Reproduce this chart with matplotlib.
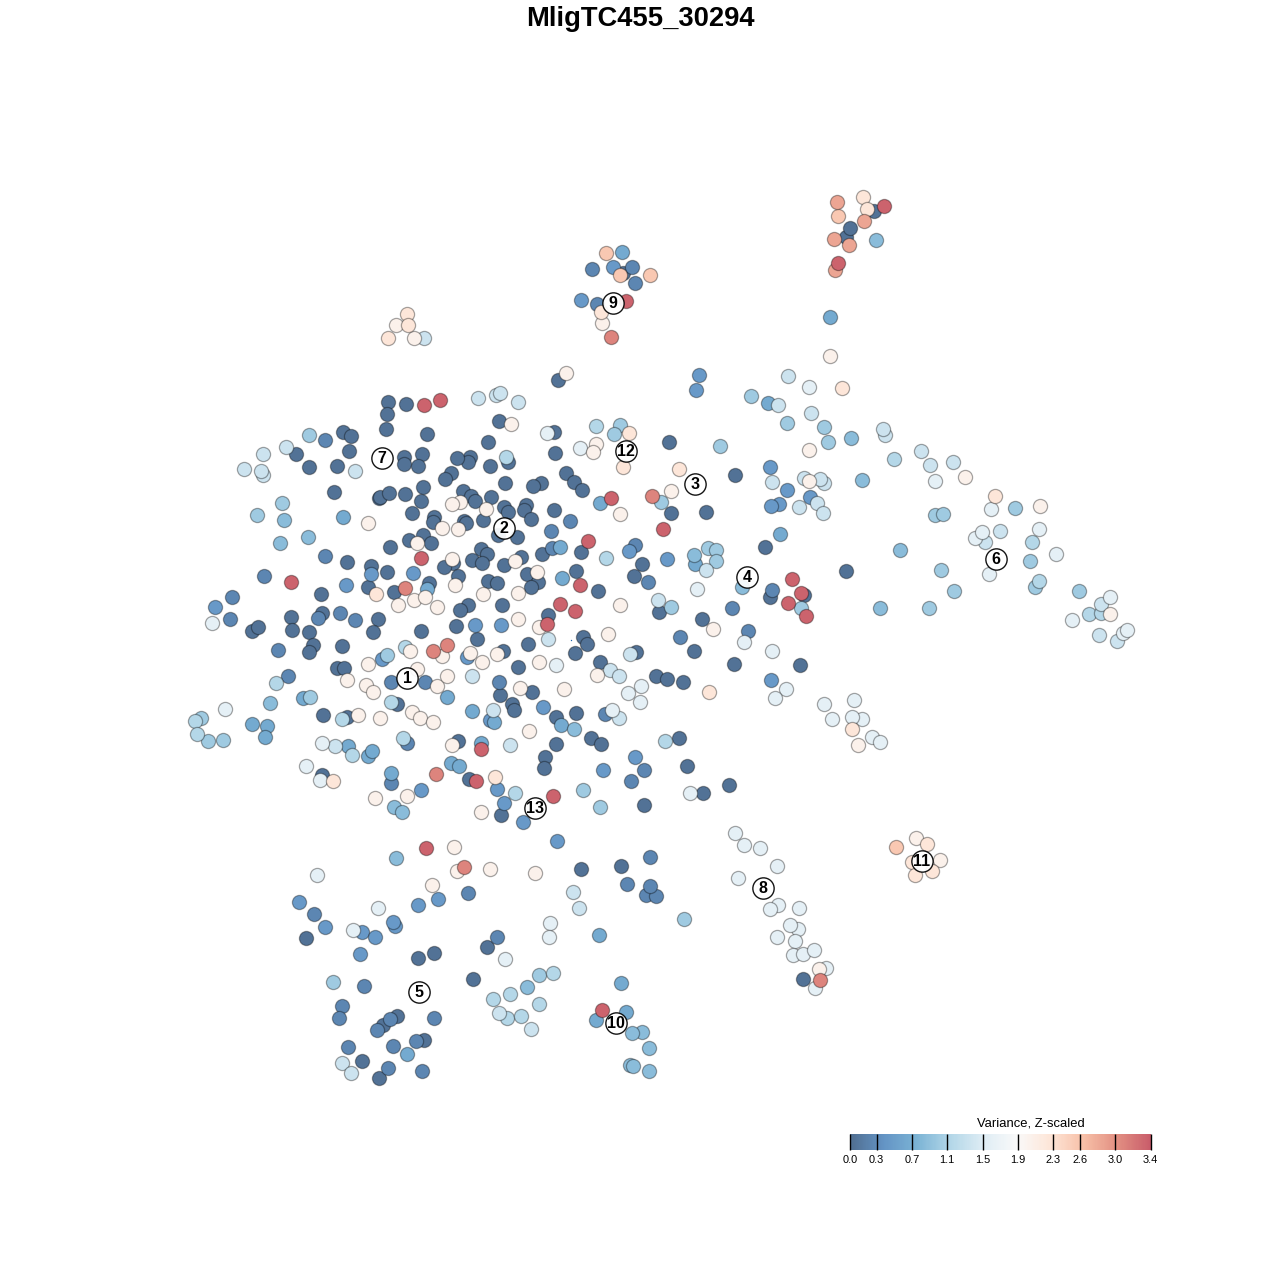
import matplotlib
matplotlib.use("Agg")
import matplotlib.pyplot as plt
from matplotlib.cm import ScalarMappable
from matplotlib.colors import LinearSegmentedColormap, Normalize
import numpy as np

plt.rcParams["font.family"] = ["Liberation Sans", "DejaVu Sans"]

# embedding positions of the cells, grouped by their scaled variance
var_005 = [(388,402),(406,404),(387,414),(386,429),(427,434),(343,432),(351,436),(296,454),(349,451),(309,467),
    (337,466),(404,457),(404,464),(422,454),(418,466),(334,492),(379,498),(380,497),(389,493),(405,494),
    (423,487),(421,501),(412,513),(434,517),(433,522),(347,562),(390,547),(409,540),(423,535),(431,543),
    (371,566),(387,572),(368,587),(394,592),(429,583),(321,594),(291,617),(322,613),(378,619),(252,631),
    (258,627),(292,630),(309,632),(373,632),(342,646),(421,631),(313,645),(309,652),(337,668),(344,668),
    (323,715),(347,717),(397,704),(322,775),(558,380),(499,421),(554,432),(488,442),(669,442),(555,453),
    (470,457),(468,462),(457,458),(508,462),(490,466),(451,473),(445,479),(505,483),(566,473),(574,482),
    (582,490),(541,483),(533,486),(671,513),(463,491),(471,496),(475,501),(491,497),(504,507),(508,512),
    (526,505),(524,510),(531,519),(554,510),(483,520),(464,521),(466,523),(498,535),(517,537),(581,552),
    (542,554),(642,564),(634,576),(481,549),(487,554),(472,560),(482,563),(453,563),(444,567),(521,557),
    (504,565),(458,576),(488,581),(497,583),(527,574),(538,582),(531,587),(576,571),(598,591),(659,612),
    (548,615),(502,605),(468,605),(460,610),(456,626),(583,637),(587,644),(477,639),(503,651),(528,644),
    (575,653),(518,667),(636,652),(600,662),(656,676),(667,679),(683,682),(500,695),(532,692),(512,704),
    (514,710),(556,717),(576,713),(591,738),(601,744),(679,738),(458,741),(556,744),(545,757),(544,768),
    (687,766),(469,779),(501,815),(644,805),(581,869),(621,866),(735,475),(706,512),(765,547),(846,571),
    (804,595),(770,597),(702,619),(694,651),(734,664),(800,665),(703,793),(729,785),(803,979),(623,273),
    (874,211),(846,237),(850,228),(306,938),(418,958),(434,953),(487,947),(473,979),(397,1016),(383,1025),
    (424,1040),(362,1061),(379,1078)]
var_025 = [(325,440),(325,556),(264,576),(232,597),(230,619),(318,618),(340,613),(355,620),(278,650),(288,676),
    (391,682),(425,682),(407,743),(391,783),(551,531),(570,521),(552,548),(635,545),(648,582),(680,637),
    (499,682),(605,714),(644,770),(631,781),(650,857),(748,631),(772,590),(732,608),(592,269),(632,267),
    (635,283),(597,304),(468,893),(314,914),(497,937),(364,986),(342,1006),(339,1018),(390,1019),(377,1030),
    (434,1018),(416,1041),(393,1046),(348,1047),(388,1068),(422,1071),(627,884),(646,895),(656,896),(650,886)]
var_045 = [(371,574),(413,573),(346,585),(215,607),(475,625),(501,625),(629,551),(667,559),(382,659),(421,790),
    (467,657),(543,707),(490,720),(635,757),(603,770),(497,789),(504,803),(523,822),(557,841),(699,375),
    (696,390),(770,467),(787,490),(779,504),(771,506),(810,497),(418,905),(438,899),(299,902),(325,927),
    (362,932),(375,937),(395,926),(393,922),(360,954),(771,680),(613,267),(581,300)]
var_065 = [(343,517),(427,589),(560,547),(600,503),(562,578),(303,698),(252,724),(267,726),(265,737),(348,746),
    (368,756),(372,751),(391,773),(447,697),(472,711),(494,722),(561,725),(481,743),(451,763),(459,766),
    (768,403),(780,534),(695,564),(830,317),(599,935),(407,1054),(622,252),(621,983),(626,1012),(596,1020)]
var_085 = [(308,537),(280,543),(284,520),(270,703),(394,807),(402,812),(574,729),(851,438),(862,480),(694,555),
    (742,587),(876,240),(880,608),(900,550),(527,987),(642,1032),(632,1033),(649,1048),(630,1065),(633,1066),
    (649,1071),(396,858)]
var_100 = [(282,503),(257,515),(309,435),(620,425),(614,434),(661,502),(671,607),(387,655),(201,718),(310,697),
    (223,740),(208,741),(583,790),(600,807),(720,446),(751,396),(824,427),(828,442),(787,423),(1015,508),
    (935,515),(943,514),(1030,561),(941,570),(954,591),(929,608),(1035,587),(1079,591),(333,982),(539,975),
    (708,548),(716,550),(716,561),(801,608),(684,919)]
var_115 = [(342,719),(405,647),(403,738),(276,683),(195,721),(197,734),(391,702),(352,755),(606,558),(596,426),
    (506,457),(665,741),(515,793),(894,459),(1032,542),(1039,581),(1089,614),(1101,613),(553,973),(510,994),
    (493,999),(539,1004),(507,1018),(521,1016)]
var_135 = [(286,447),(263,454),(244,469),(263,475),(261,471),(355,471),(478,398),(496,395),(500,393),(518,402),
    (548,639),(335,746),(493,710),(510,745),(610,670),(619,676),(619,718),(630,654),(658,600),(472,676),
    (573,892),(579,908),(778,405),(788,376),(811,413),(885,435),(883,429),(921,451),(930,465),(953,462),
    (772,482),(804,478),(824,483),(820,479),(817,503),(799,507),(823,513),(706,570),(1000,531),(985,542),
    (1099,635),(1117,641),(1101,604),(424,338),(342,1063),(351,1073),(499,1013),(531,1029)]
var_160 = [(212,623),(225,709),(322,743),(306,766),(320,780),(547,433),(580,448),(556,665),(641,686),(628,693),
    (640,702),(612,710),(697,589),(690,793),(935,481),(991,509),(975,538),(982,532),(1039,529),(1056,554),
    (989,574),(1110,597),(1072,620),(1123,633),(1127,630),(809,387),(744,642),(772,651),(786,689),(775,698),
    (824,704),(854,700),(832,719),(862,719),(852,717),(872,737),(880,742),(317,875),(378,908),(353,930),
    (505,959),(550,923),(549,937),(735,833),(744,845),(760,848),(777,866),(738,878),(778,905),(770,909),
    (799,908),(798,929),(790,925),(777,937),(795,941),(793,955),(803,954),(814,950),(826,968),(815,988)]
var_205 = [(368,523),(442,528),(458,529),(460,502),(452,504),(486,509),(417,543),(437,607),(398,605),(414,600),
    (425,597),(483,594),(518,593),(455,585),(537,572),(515,561),(452,559),(518,619),(539,627),(620,605),
    (511,424),(566,373),(596,444),(593,452),(620,514),(671,491),(608,634),(410,651),(368,664),(417,669),
    (347,680),(366,685),(373,692),(437,686),(412,712),(420,718),(433,722),(358,715),(380,718),(375,798),
    (407,796),(442,656),(470,653),(497,654),(482,662),(539,662),(597,675),(447,676),(520,688),(564,689),
    (529,731),(452,745),(481,812),(454,847),(457,871),(490,869),(535,873),(432,885),(830,356),(713,629),
    (809,450),(809,481),(965,477),(1040,506),(1110,614),(396,325),(414,338),(602,323),(858,745),(819,969),
    (916,838),(940,860)]
var_225 = [(376,594),(333,781),(623,467),(629,433),(679,469),(495,777),(709,692),(842,388),(995,496),(407,314),
    (408,325),(388,338),(852,729),(927,844),(912,862),(863,197),(867,209),(601,312),(915,875),(932,871)]
var_255 = [(606,253),(620,275),(650,275),(838,216),(896,847)]
var_285 = [(837,202),(864,221),(834,239),(849,245),(835,270)]
var_310 = [(405,588),(433,651),(447,645),(436,774),(464,867),(820,980),(611,337),(652,496)]
var_335 = [(424,405),(440,400),(291,582),(421,558),(611,498),(663,529),(588,541),(580,585),(560,604),(575,611),
    (547,624),(481,749),(476,781),(553,796),(426,848),(602,1010),(792,579),(801,593),(788,603),(806,616),
    (626,301),(884,206),(838,263)]

var_levels = [0.05, 0.25, 0.45, 0.65, 0.85, 1.0, 1.15, 1.35, 1.6, 2.05, 2.25, 2.55, 2.85, 3.1, 3.35]
var_groups = [var_005, var_025, var_045, var_065, var_085, var_100, var_115, var_135, var_160,
              var_205, var_225, var_255, var_285, var_310, var_335]

cluster_ids = ["1", "2", "3", "4", "5", "6", "7", "8", "9", "10", "11", "12", "13"]
cluster_x = [407, 504, 695, 747, 419, 996, 382, 763, 613, 616, 922, 626, 535]
cluster_y = [678, 528, 484, 577, 992, 559, 458, 888, 303, 1023, 861, 451, 808]

bar_ticks = [0.0, 0.3, 0.7, 1.1, 1.5, 1.9, 2.3, 2.6, 3.0, 3.4]
bar_colors = ["#053061", "#2166ac", "#4393c3", "#92c5de", "#d1e5f0",
              "#f7f7f7", "#fddbc7", "#f4a582", "#d6604d", "#b2182b"]

# the reference blends each colour with white once, overlaps stay solid
bar_rgb = np.array([matplotlib.colors.to_rgb(c) for c in bar_colors]) * 0.7 + 0.3
cmap = LinearSegmentedColormap.from_list("var_z", bar_rgb)
norm = Normalize(0, 3.4)

fig = plt.figure(figsize=(12.8, 12.8), dpi=100)
ax = fig.add_axes([0, 0, 1, 1])
ax.set_xlim(0, 1280)
ax.set_ylim(1280, 0)
ax.axis("off")

for level, group in zip(var_levels, var_groups):
    pts = np.array(group)
    ax.scatter(pts[:, 0], pts[:, 1], s=104, color=cmap(norm(level)),
               edgecolors=(0, 0, 0, 0.35), linewidths=0.9, zorder=2)

# stray speck near the middle of the map
ax.scatter([571], [640], s=1, color="#2166ac", linewidths=0, zorder=2)

ax.scatter(cluster_x, cluster_y, s=235, color="white", alpha=0.92, edgecolors="black",
           linewidths=1.0, zorder=3)
for cid, cx, cy in zip(cluster_ids, cluster_x, cluster_y):
    ax.text(cx, cy + 0.5, cid, ha="center", va="center", fontsize=11.5, fontweight="bold", zorder=4)

ax.text(640.5, 19, "MligTC455_30294", ha="center", va="center", fontsize=19.7, fontweight="bold")

# colour bar
cax = fig.add_axes([850 / 1280, 1 - 1149.5 / 1280, 300.5 / 1280, 15.5 / 1280])
cb = fig.colorbar(ScalarMappable(norm=norm, cmap=cmap), cax=cax, orientation="horizontal",
                  ticks=bar_ticks)
cb.outline.set_visible(False)
cb.ax.tick_params(length=0, pad=4, labelsize=7.9)
cb.ax.set_xticklabels([f"{t:.1f}" for t in bar_ticks])
cb.ax.vlines(bar_ticks, 0, 1, colors="black", linewidths=1.0, transform=cb.ax.get_xaxis_transform(),
             clip_on=False)
ax.text(1031, 1123, "Variance, Z-scaled", ha="center", va="center", fontsize=9.4)

fig.savefig("out.png", dpi=100)
